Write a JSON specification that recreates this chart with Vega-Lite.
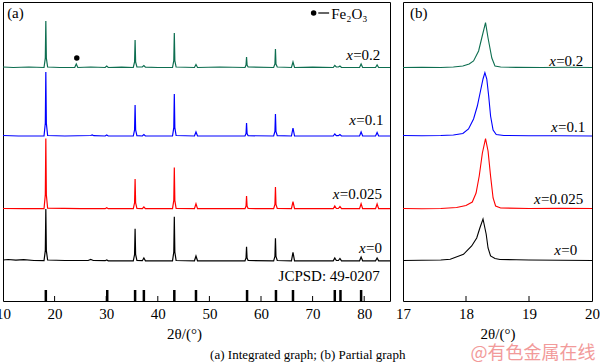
{
  "$schema": "https://vega.github.io/schema/vega-lite/v6.json",
  "padding": {"left": -5, "top": 1, "right": 0, "bottom": 0},
  "background": "white",
  "spacing": 13,
  "bounds": "flush",
  "config": {
    "font": "Liberation Serif",
    "view": {"stroke": "black", "strokeWidth": 1},
    "axis": {"grid": false, "labelFont": "Liberation Serif", "titleFont": "Liberation Serif"},
    "text": {"font": "Liberation Serif", "fontSize": 15, "color": "black"},
    "title": {"font": "Liberation Serif", "fontWeight": "normal", "color": "black"}
  },
  "datasets": {
    "left": [
      {"s":"x=0.2","t":10,"v":234},{"s":"x=0.2","t":12,"v":233.5},{"s":"x=0.2","t":15,"v":234},{"s":"x=0.2","t":17.95,"v":233.5},{"s":"x=0.2","t":18.2,"v":242.8},{"s":"x=0.2","t":18.3,"v":280},{"s":"x=0.2","t":18.4,"v":242.8},{"s":"x=0.2","t":18.65,"v":234},{"s":"x=0.2","t":21,"v":233.5},{"s":"x=0.2","t":23.9,"v":233.5},{"s":"x=0.2","t":24.2,"v":237},{"s":"x=0.2","t":24.5,"v":233.5},{"s":"x=0.2","t":27,"v":234},{"s":"x=0.2","t":29.8,"v":233.5},{"s":"x=0.2","t":30.1,"v":235},{"s":"x=0.2","t":30.4,"v":233.5},{"s":"x=0.2","t":33,"v":233.8},{"s":"x=0.2","t":35.25,"v":233.5},{"s":"x=0.2","t":35.5,"v":239},{"s":"x=0.2","t":35.6,"v":261},{"s":"x=0.2","t":35.7,"v":239},{"s":"x=0.2","t":35.95,"v":234},{"s":"x=0.2","t":37.0,"v":234},{"s":"x=0.2","t":37.3,"v":235.5},{"s":"x=0.2","t":37.6,"v":233.8},{"s":"x=0.2","t":40,"v":233.5},{"s":"x=0.2","t":42.85,"v":233.5},{"s":"x=0.2","t":43.1,"v":240.4},{"s":"x=0.2","t":43.2,"v":268},{"s":"x=0.2","t":43.3,"v":240.4},{"s":"x=0.2","t":43.55,"v":234},{"s":"x=0.2","t":47.1,"v":233.5},{"s":"x=0.2","t":47.4,"v":236.5},{"s":"x=0.2","t":47.7,"v":233.5},{"s":"x=0.2","t":52,"v":234},{"s":"x=0.2","t":56.9,"v":233.5},{"s":"x=0.2","t":57.1,"v":236},{"s":"x=0.2","t":57.2,"v":244},{"s":"x=0.2","t":57.3,"v":236},{"s":"x=0.2","t":57.5,"v":234},{"s":"x=0.2","t":62.45,"v":233.5},{"s":"x=0.2","t":62.7,"v":237},{"s":"x=0.2","t":62.8,"v":252},{"s":"x=0.2","t":62.9,"v":237},{"s":"x=0.2","t":63.15,"v":234},{"s":"x=0.2","t":65.9,"v":233.5},{"s":"x=0.2","t":66.2,"v":239},{"s":"x=0.2","t":66.5,"v":233.5},{"s":"x=0.2","t":70,"v":233.8},{"s":"x=0.2","t":74.0,"v":233.5},{"s":"x=0.2","t":74.3,"v":235.5},{"s":"x=0.2","t":74.6,"v":234},{"s":"x=0.2","t":75.0,"v":234},{"s":"x=0.2","t":75.3,"v":235},{"s":"x=0.2","t":75.6,"v":233.5},{"s":"x=0.2","t":79.1,"v":233.5},{"s":"x=0.2","t":79.4,"v":237},{"s":"x=0.2","t":79.7,"v":233.5},{"s":"x=0.2","t":82.2,"v":233.5},{"s":"x=0.2","t":82.5,"v":236},{"s":"x=0.2","t":82.8,"v":233.5},{"s":"x=0.2","t":85,"v":233.5},

      {"s":"x=0.1","t":10,"v":165.5},{"s":"x=0.1","t":13,"v":165},{"s":"x=0.1","t":17.95,"v":165},{"s":"x=0.1","t":18.2,"v":177.8},{"s":"x=0.1","t":18.3,"v":229},{"s":"x=0.1","t":18.4,"v":177.8},{"s":"x=0.1","t":18.65,"v":165.5},{"s":"x=0.1","t":22,"v":165},{"s":"x=0.1","t":27,"v":165.5},{"s":"x=0.1","t":27.3,"v":166},{"s":"x=0.1","t":27.6,"v":165.3},{"s":"x=0.1","t":29.8,"v":165},{"s":"x=0.1","t":30.1,"v":166},{"s":"x=0.1","t":30.4,"v":165},{"s":"x=0.1","t":35.25,"v":165},{"s":"x=0.1","t":35.5,"v":171.2},{"s":"x=0.1","t":35.6,"v":196},{"s":"x=0.1","t":35.7,"v":171.2},{"s":"x=0.1","t":35.95,"v":165.3},{"s":"x=0.1","t":37.0,"v":165},{"s":"x=0.1","t":37.3,"v":166.5},{"s":"x=0.1","t":37.6,"v":165},{"s":"x=0.1","t":42.85,"v":165},{"s":"x=0.1","t":43.1,"v":173.4},{"s":"x=0.1","t":43.2,"v":207},{"s":"x=0.1","t":43.3,"v":173.4},{"s":"x=0.1","t":43.55,"v":165.5},{"s":"x=0.1","t":47.1,"v":165},{"s":"x=0.1","t":47.4,"v":169},{"s":"x=0.1","t":47.7,"v":165},{"s":"x=0.1","t":56.9,"v":165},{"s":"x=0.1","t":57.1,"v":167.5},{"s":"x=0.1","t":57.2,"v":178},{"s":"x=0.1","t":57.3,"v":167.5},{"s":"x=0.1","t":57.5,"v":165.3},{"s":"x=0.1","t":62.45,"v":165},{"s":"x=0.1","t":62.7,"v":169.5},{"s":"x=0.1","t":62.8,"v":187},{"s":"x=0.1","t":62.9,"v":169.5},{"s":"x=0.1","t":63.15,"v":165.3},{"s":"x=0.1","t":65.9,"v":165},{"s":"x=0.1","t":66.2,"v":173},{"s":"x=0.1","t":66.5,"v":165},{"s":"x=0.1","t":74.0,"v":165},{"s":"x=0.1","t":74.3,"v":167},{"s":"x=0.1","t":74.6,"v":165.3},{"s":"x=0.1","t":75.0,"v":165.3},{"s":"x=0.1","t":75.3,"v":166.5},{"s":"x=0.1","t":75.6,"v":165},{"s":"x=0.1","t":79.1,"v":165},{"s":"x=0.1","t":79.4,"v":169},{"s":"x=0.1","t":79.7,"v":165},{"s":"x=0.1","t":82.2,"v":165},{"s":"x=0.1","t":82.5,"v":168.5},{"s":"x=0.1","t":82.8,"v":165},{"s":"x=0.1","t":85,"v":165},

      {"s":"x=0.025","t":10,"v":92.5},{"s":"x=0.025","t":14,"v":92.3},{"s":"x=0.025","t":17.95,"v":92.3},{"s":"x=0.025","t":18.2,"v":106.3},{"s":"x=0.025","t":18.3,"v":162.5},{"s":"x=0.025","t":18.4,"v":106.3},{"s":"x=0.025","t":18.65,"v":92.8},{"s":"x=0.025","t":25,"v":92.3},{"s":"x=0.025","t":29.8,"v":92.3},{"s":"x=0.025","t":30.1,"v":93.3},{"s":"x=0.025","t":30.4,"v":92.3},{"s":"x=0.025","t":35.25,"v":92.3},{"s":"x=0.025","t":35.5,"v":98.2},{"s":"x=0.025","t":35.6,"v":122},{"s":"x=0.025","t":35.7,"v":98.2},{"s":"x=0.025","t":35.95,"v":92.6},{"s":"x=0.025","t":37.0,"v":92.3},{"s":"x=0.025","t":37.3,"v":94},{"s":"x=0.025","t":37.6,"v":92.3},{"s":"x=0.025","t":42.85,"v":92.3},{"s":"x=0.025","t":43.1,"v":100.6},{"s":"x=0.025","t":43.2,"v":133.5},{"s":"x=0.025","t":43.3,"v":100.6},{"s":"x=0.025","t":43.55,"v":92.6},{"s":"x=0.025","t":47.1,"v":92.3},{"s":"x=0.025","t":47.4,"v":97.3},{"s":"x=0.025","t":47.7,"v":92.3},{"s":"x=0.025","t":56.9,"v":92.3},{"s":"x=0.025","t":57.1,"v":95},{"s":"x=0.025","t":57.2,"v":105},{"s":"x=0.025","t":57.3,"v":95},{"s":"x=0.025","t":57.5,"v":92.5},{"s":"x=0.025","t":62.45,"v":92.3},{"s":"x=0.025","t":62.7,"v":96.6},{"s":"x=0.025","t":62.8,"v":114},{"s":"x=0.025","t":62.9,"v":96.6},{"s":"x=0.025","t":63.15,"v":92.5},{"s":"x=0.025","t":65.9,"v":92.3},{"s":"x=0.025","t":66.2,"v":99.3},{"s":"x=0.025","t":66.5,"v":92.3},{"s":"x=0.025","t":74.0,"v":92.3},{"s":"x=0.025","t":74.3,"v":95},{"s":"x=0.025","t":74.6,"v":92.5},{"s":"x=0.025","t":75.0,"v":92.5},{"s":"x=0.025","t":75.3,"v":94.5},{"s":"x=0.025","t":75.6,"v":92.3},{"s":"x=0.025","t":79.1,"v":92.3},{"s":"x=0.025","t":79.4,"v":97.3},{"s":"x=0.025","t":79.7,"v":92.3},{"s":"x=0.025","t":82.2,"v":92.3},{"s":"x=0.025","t":82.5,"v":97},{"s":"x=0.025","t":82.8,"v":92.3},{"s":"x=0.025","t":85,"v":92.3},

      {"s":"x=0","t":10,"v":41},{"s":"x=0","t":11,"v":41.5},{"s":"x=0","t":12.5,"v":40.8},{"s":"x=0","t":14,"v":41.3},{"s":"x=0","t":16,"v":40.5},{"s":"x=0","t":17.95,"v":40.3},{"s":"x=0","t":18.2,"v":50.4},{"s":"x=0","t":18.3,"v":92},{"s":"x=0","t":18.4,"v":50.4},{"s":"x=0","t":18.65,"v":41},{"s":"x=0","t":22,"v":40.5},{"s":"x=0","t":26.5,"v":40.5},{"s":"x=0","t":27,"v":41.5},{"s":"x=0","t":27.5,"v":40.5},{"s":"x=0","t":29.8,"v":40.3},{"s":"x=0","t":30.1,"v":41},{"s":"x=0","t":30.4,"v":40.2},{"s":"x=0","t":35.25,"v":40.2},{"s":"x=0","t":35.5,"v":46.5},{"s":"x=0","t":35.6,"v":72.3},{"s":"x=0","t":35.7,"v":46.5},{"s":"x=0","t":35.95,"v":40.5},{"s":"x=0","t":37.0,"v":40.3},{"s":"x=0","t":37.3,"v":43},{"s":"x=0","t":37.6,"v":40.2},{"s":"x=0","t":42.85,"v":40.2},{"s":"x=0","t":43.1,"v":49},{"s":"x=0","t":43.2,"v":84.3},{"s":"x=0","t":43.3,"v":49},{"s":"x=0","t":43.55,"v":40.5},{"s":"x=0","t":47.1,"v":40.2},{"s":"x=0","t":47.4,"v":45},{"s":"x=0","t":47.7,"v":40.2},{"s":"x=0","t":56.9,"v":40.2},{"s":"x=0","t":57.1,"v":43},{"s":"x=0","t":57.2,"v":54.3},{"s":"x=0","t":57.3,"v":43},{"s":"x=0","t":57.5,"v":40.5},{"s":"x=0","t":62.45,"v":40.2},{"s":"x=0","t":62.7,"v":44.5},{"s":"x=0","t":62.8,"v":62.7},{"s":"x=0","t":62.9,"v":44.5},{"s":"x=0","t":63.15,"v":40.5},{"s":"x=0","t":65.9,"v":40.2},{"s":"x=0","t":66.2,"v":48.7},{"s":"x=0","t":66.5,"v":40.2},{"s":"x=0","t":74.0,"v":40.2},{"s":"x=0","t":74.3,"v":43},{"s":"x=0","t":74.6,"v":40.5},{"s":"x=0","t":75.0,"v":40.5},{"s":"x=0","t":75.3,"v":42.5},{"s":"x=0","t":75.6,"v":40.2},{"s":"x=0","t":79.1,"v":40.2},{"s":"x=0","t":79.4,"v":44},{"s":"x=0","t":79.7,"v":40.2},{"s":"x=0","t":82.2,"v":40.2},{"s":"x=0","t":82.5,"v":43},{"s":"x=0","t":82.8,"v":40.2},{"s":"x=0","t":85,"v":40.2}
    ],
    "right": [
      {"s":"x=0.2","t":17,"v":233.5},{"s":"x=0.2","t":17.3,"v":233.8},{"s":"x=0.2","t":17.6,"v":233.5},{"s":"x=0.2","t":17.8,"v":234},{"s":"x=0.2","t":17.95,"v":235},{"s":"x=0.2","t":18.05,"v":237},{"s":"x=0.2","t":18.12,"v":240},{"s":"x=0.2","t":18.2,"v":250},{"s":"x=0.2","t":18.25,"v":263},{"s":"x=0.2","t":18.31,"v":278.3},{"s":"x=0.2","t":18.35,"v":263},{"s":"x=0.2","t":18.41,"v":243},{"s":"x=0.2","t":18.46,"v":235},{"s":"x=0.2","t":18.55,"v":234},{"s":"x=0.2","t":18.8,"v":233.6},{"s":"x=0.2","t":19.2,"v":233.5},{"s":"x=0.2","t":19.6,"v":233.7},{"s":"x=0.2","t":20,"v":233.5},

      {"s":"x=0.1","t":17,"v":165.5},{"s":"x=0.1","t":17.3,"v":165.3},{"s":"x=0.1","t":17.6,"v":165.5},{"s":"x=0.1","t":17.8,"v":166},{"s":"x=0.1","t":17.95,"v":167.5},{"s":"x=0.1","t":18.04,"v":172},{"s":"x=0.1","t":18.12,"v":182},{"s":"x=0.1","t":18.18,"v":195},{"s":"x=0.1","t":18.23,"v":210},{"s":"x=0.1","t":18.27,"v":222},{"s":"x=0.1","t":18.30,"v":228.3},{"s":"x=0.1","t":18.33,"v":222},{"s":"x=0.1","t":18.36,"v":205},{"s":"x=0.1","t":18.39,"v":185},{"s":"x=0.1","t":18.43,"v":171},{"s":"x=0.1","t":18.48,"v":166.5},{"s":"x=0.1","t":18.6,"v":165.5},{"s":"x=0.1","t":19,"v":165.3},{"s":"x=0.1","t":19.5,"v":165.2},{"s":"x=0.1","t":20,"v":165},

      {"s":"x=0.025","t":17,"v":92.5},{"s":"x=0.025","t":17.3,"v":92.3},{"s":"x=0.025","t":17.6,"v":92.5},{"s":"x=0.025","t":17.85,"v":93.5},{"s":"x=0.025","t":18.0,"v":95.5},{"s":"x=0.025","t":18.1,"v":99},{"s":"x=0.025","t":18.16,"v":108},{"s":"x=0.025","t":18.21,"v":125},{"s":"x=0.025","t":18.26,"v":148},{"s":"x=0.025","t":18.31,"v":162.3},{"s":"x=0.025","t":18.35,"v":150},{"s":"x=0.025","t":18.39,"v":125},{"s":"x=0.025","t":18.43,"v":103},{"s":"x=0.025","t":18.47,"v":95},{"s":"x=0.025","t":18.55,"v":93},{"s":"x=0.025","t":19,"v":92.5},{"s":"x=0.025","t":19.5,"v":92.6},{"s":"x=0.025","t":20,"v":92.5},

      {"s":"x=0","t":17,"v":40.5},{"s":"x=0","t":17.3,"v":40.8},{"s":"x=0","t":17.6,"v":41},{"s":"x=0","t":17.75,"v":41.7},{"s":"x=0","t":17.96,"v":46.7},{"s":"x=0","t":18.09,"v":55},{"s":"x=0","t":18.17,"v":63},{"s":"x=0","t":18.22,"v":73},{"s":"x=0","t":18.27,"v":82},{"s":"x=0","t":18.32,"v":67},{"s":"x=0","t":18.35,"v":53},{"s":"x=0","t":18.39,"v":45},{"s":"x=0","t":18.46,"v":42.5},{"s":"x=0","t":18.54,"v":41.5},{"s":"x=0","t":18.8,"v":41.3},{"s":"x=0","t":19,"v":41},{"s":"x=0","t":19.5,"v":40.8},{"s":"x=0","t":20,"v":40.5}
    ],
    "sticks": [
      {"t":18.3},{"t":30.2},{"t":35.6},{"t":37.3},{"t":43.2},{"t":47.4},{"t":57.3},{"t":62.9},{"t":66.2},{"t":74.3},{"t":75.4},{"t":79.4}
    ],
    "leftTicks": [{"t":20},{"t":30},{"t":40},{"t":50},{"t":60},{"t":70},{"t":80}],
    "rightTicks": [{"t":18},{"t":19}],
    "dots": [{"t":24.3,"v":243},{"t":70.2,"v":288}],
    "dash": [{"t":71.1,"t2":73.2,"v":288}],
    "leftText": [
      {"label":"(a)","t":10.8,"v":288},
      {"label":"Fe₂O₃","t":73.6,"v":287},
      {"label":"JCPSD: 49-0207","t":63.4,"v":25}
    ],
    "leftLabels": [
      {"rest":"=0.2","t":76.5,"v":246},
      {"rest":"=0.1","t":77.1,"v":181},
      {"rest":"=0.025","t":73.9,"v":107},
      {"rest":"=0","t":79.0,"v":53}
    ],
    "rightText": [{"label":"(b)","t":17.11,"v":288}],
    "rightLabels": [
      {"rest":"=0.2","t":19.32,"v":240},
      {"rest":"=0.1","t":19.35,"v":174},
      {"rest":"=0.025","t":19.08,"v":102},
      {"rest":"=0","t":19.40,"v":51}
    ]
  },
  "hconcat": [
    {
      "width": 387,
      "height": 299,
      "title": {"text": "(a) Integrated graph; (b) Partial graph", "orient": "bottom", "anchor": "end", "dx": 13, "offset": 8, "fontSize": 13, "fontWeight": "normal", "font": "Liberation Serif", "color": "black"},
      "layer": [
        {
          "data": {"name": "left"},
          "mark": {"type": "line", "strokeWidth": 1.2},
          "encoding": {
            "x": {"field": "t", "type": "quantitative", "scale": {"domain": [10, 85], "nice": false, "zero": false},
                  "axis": {"title": "2θ/(°)", "values": [10,20,30,40,50,60,70,80], "format": "d", "ticks": false, "domain": false, "labelFlush": false, "labelOverlap": false, "labelFontSize": 15, "labelColor": "black", "labelPadding": 5, "titleFontSize": 15, "titleFontWeight": "normal", "titleColor": "black", "titlePadding": 5, "titleX": 181}},
            "y": {"field": "v", "type": "quantitative", "scale": {"domain": [0, 299], "nice": false, "zero": false}, "axis": null},
            "color": {"field": "s", "type": "nominal", "scale": {"domain": ["x=0", "x=0.025", "x=0.1", "x=0.2"], "range": ["#000000", "#ff0000", "#0000ff", "#0d6e50"]}, "legend": null}
          }
        },
        {
          "data": {"name": "leftTicks"},
          "mark": {"type": "rule", "strokeWidth": 1, "color": "black"},
          "encoding": {
            "x": {"field": "t", "type": "quantitative"},
            "y": {"datum": 0, "type": "quantitative", "axis": null},
            "y2": {"datum": 5}
          }
        },
        {
          "data": {"name": "sticks"},
          "mark": {"type": "rule", "strokeWidth": 2.5, "color": "black"},
          "encoding": {
            "x": {"field": "t", "type": "quantitative"},
            "y": {"datum": 0, "type": "quantitative", "axis": null},
            "y2": {"datum": 11}
          }
        },
        {
          "data": {"name": "dots"},
          "mark": {"type": "point", "filled": true, "shape": "circle", "size": 30, "color": "black", "opacity": 1},
          "encoding": {
            "x": {"field": "t", "type": "quantitative"},
            "y": {"field": "v", "type": "quantitative", "axis": null}
          }
        },
        {
          "data": {"name": "dash"},
          "mark": {"type": "rule", "strokeWidth": 1.2, "color": "black"},
          "encoding": {
            "x": {"field": "t", "type": "quantitative"},
            "x2": {"field": "t2"},
            "y": {"field": "v", "type": "quantitative", "axis": null}
          }
        },
        {
          "data": {"name": "leftText"},
          "mark": {"type": "text", "align": "left", "baseline": "middle"},
          "encoding": {
            "x": {"field": "t", "type": "quantitative"},
            "y": {"field": "v", "type": "quantitative", "axis": null},
            "text": {"field": "label"}
          }
        },
        {
          "data": {"name": "leftLabels"},
          "mark": {"type": "text", "align": "left", "baseline": "middle", "fontStyle": "italic"},
          "encoding": {
            "x": {"field": "t", "type": "quantitative"},
            "y": {"field": "v", "type": "quantitative", "axis": null},
            "text": {"value": "x"}
          }
        },
        {
          "data": {"name": "leftLabels"},
          "mark": {"type": "text", "align": "left", "baseline": "middle", "dx": 7},
          "encoding": {
            "x": {"field": "t", "type": "quantitative"},
            "y": {"field": "v", "type": "quantitative", "axis": null},
            "text": {"field": "rest"}
          }
        }
      ]
    },
    {
      "width": 189,
      "height": 299,
      "title": {"text": "@有色金属在线", "orient": "bottom", "anchor": "end", "dx": -4, "offset": 4, "fontSize": 18, "fontWeight": "normal", "font": "Noto Sans CJK SC", "color": "#f29a9a"},
      "layer": [
        {
          "data": {"name": "right"},
          "mark": {"type": "line", "strokeWidth": 1.1},
          "encoding": {
            "x": {"field": "t", "type": "quantitative", "scale": {"domain": [17, 20], "nice": false, "zero": false},
                  "axis": {"title": "2θ/(°)", "values": [17,18,19,20], "format": "d", "ticks": false, "domain": false, "labelFlush": false, "labelOverlap": false, "labelFontSize": 15, "labelColor": "black", "labelPadding": 5, "titleFontSize": 15, "titleFontWeight": "normal", "titleColor": "black", "titlePadding": 5}},
            "y": {"field": "v", "type": "quantitative", "scale": {"domain": [0, 299], "nice": false, "zero": false}, "axis": null},
            "color": {"field": "s", "type": "nominal", "scale": {"domain": ["x=0", "x=0.025", "x=0.1", "x=0.2"], "range": ["#000000", "#ff0000", "#0000ff", "#0d6e50"]}, "legend": null}
          }
        },
        {
          "data": {"name": "rightTicks"},
          "mark": {"type": "rule", "strokeWidth": 1, "color": "black"},
          "encoding": {
            "x": {"field": "t", "type": "quantitative"},
            "y": {"datum": 0, "type": "quantitative", "axis": null},
            "y2": {"datum": 5}
          }
        },
        {
          "data": {"name": "rightText"},
          "mark": {"type": "text", "align": "left", "baseline": "middle"},
          "encoding": {
            "x": {"field": "t", "type": "quantitative"},
            "y": {"field": "v", "type": "quantitative", "axis": null},
            "text": {"field": "label"}
          }
        },
        {
          "data": {"name": "rightLabels"},
          "mark": {"type": "text", "align": "left", "baseline": "middle", "fontStyle": "italic"},
          "encoding": {
            "x": {"field": "t", "type": "quantitative"},
            "y": {"field": "v", "type": "quantitative", "axis": null},
            "text": {"value": "x"}
          }
        },
        {
          "data": {"name": "rightLabels"},
          "mark": {"type": "text", "align": "left", "baseline": "middle", "dx": 7},
          "encoding": {
            "x": {"field": "t", "type": "quantitative"},
            "y": {"field": "v", "type": "quantitative", "axis": null},
            "text": {"field": "rest"}
          }
        }
      ]
    }
  ]
}
